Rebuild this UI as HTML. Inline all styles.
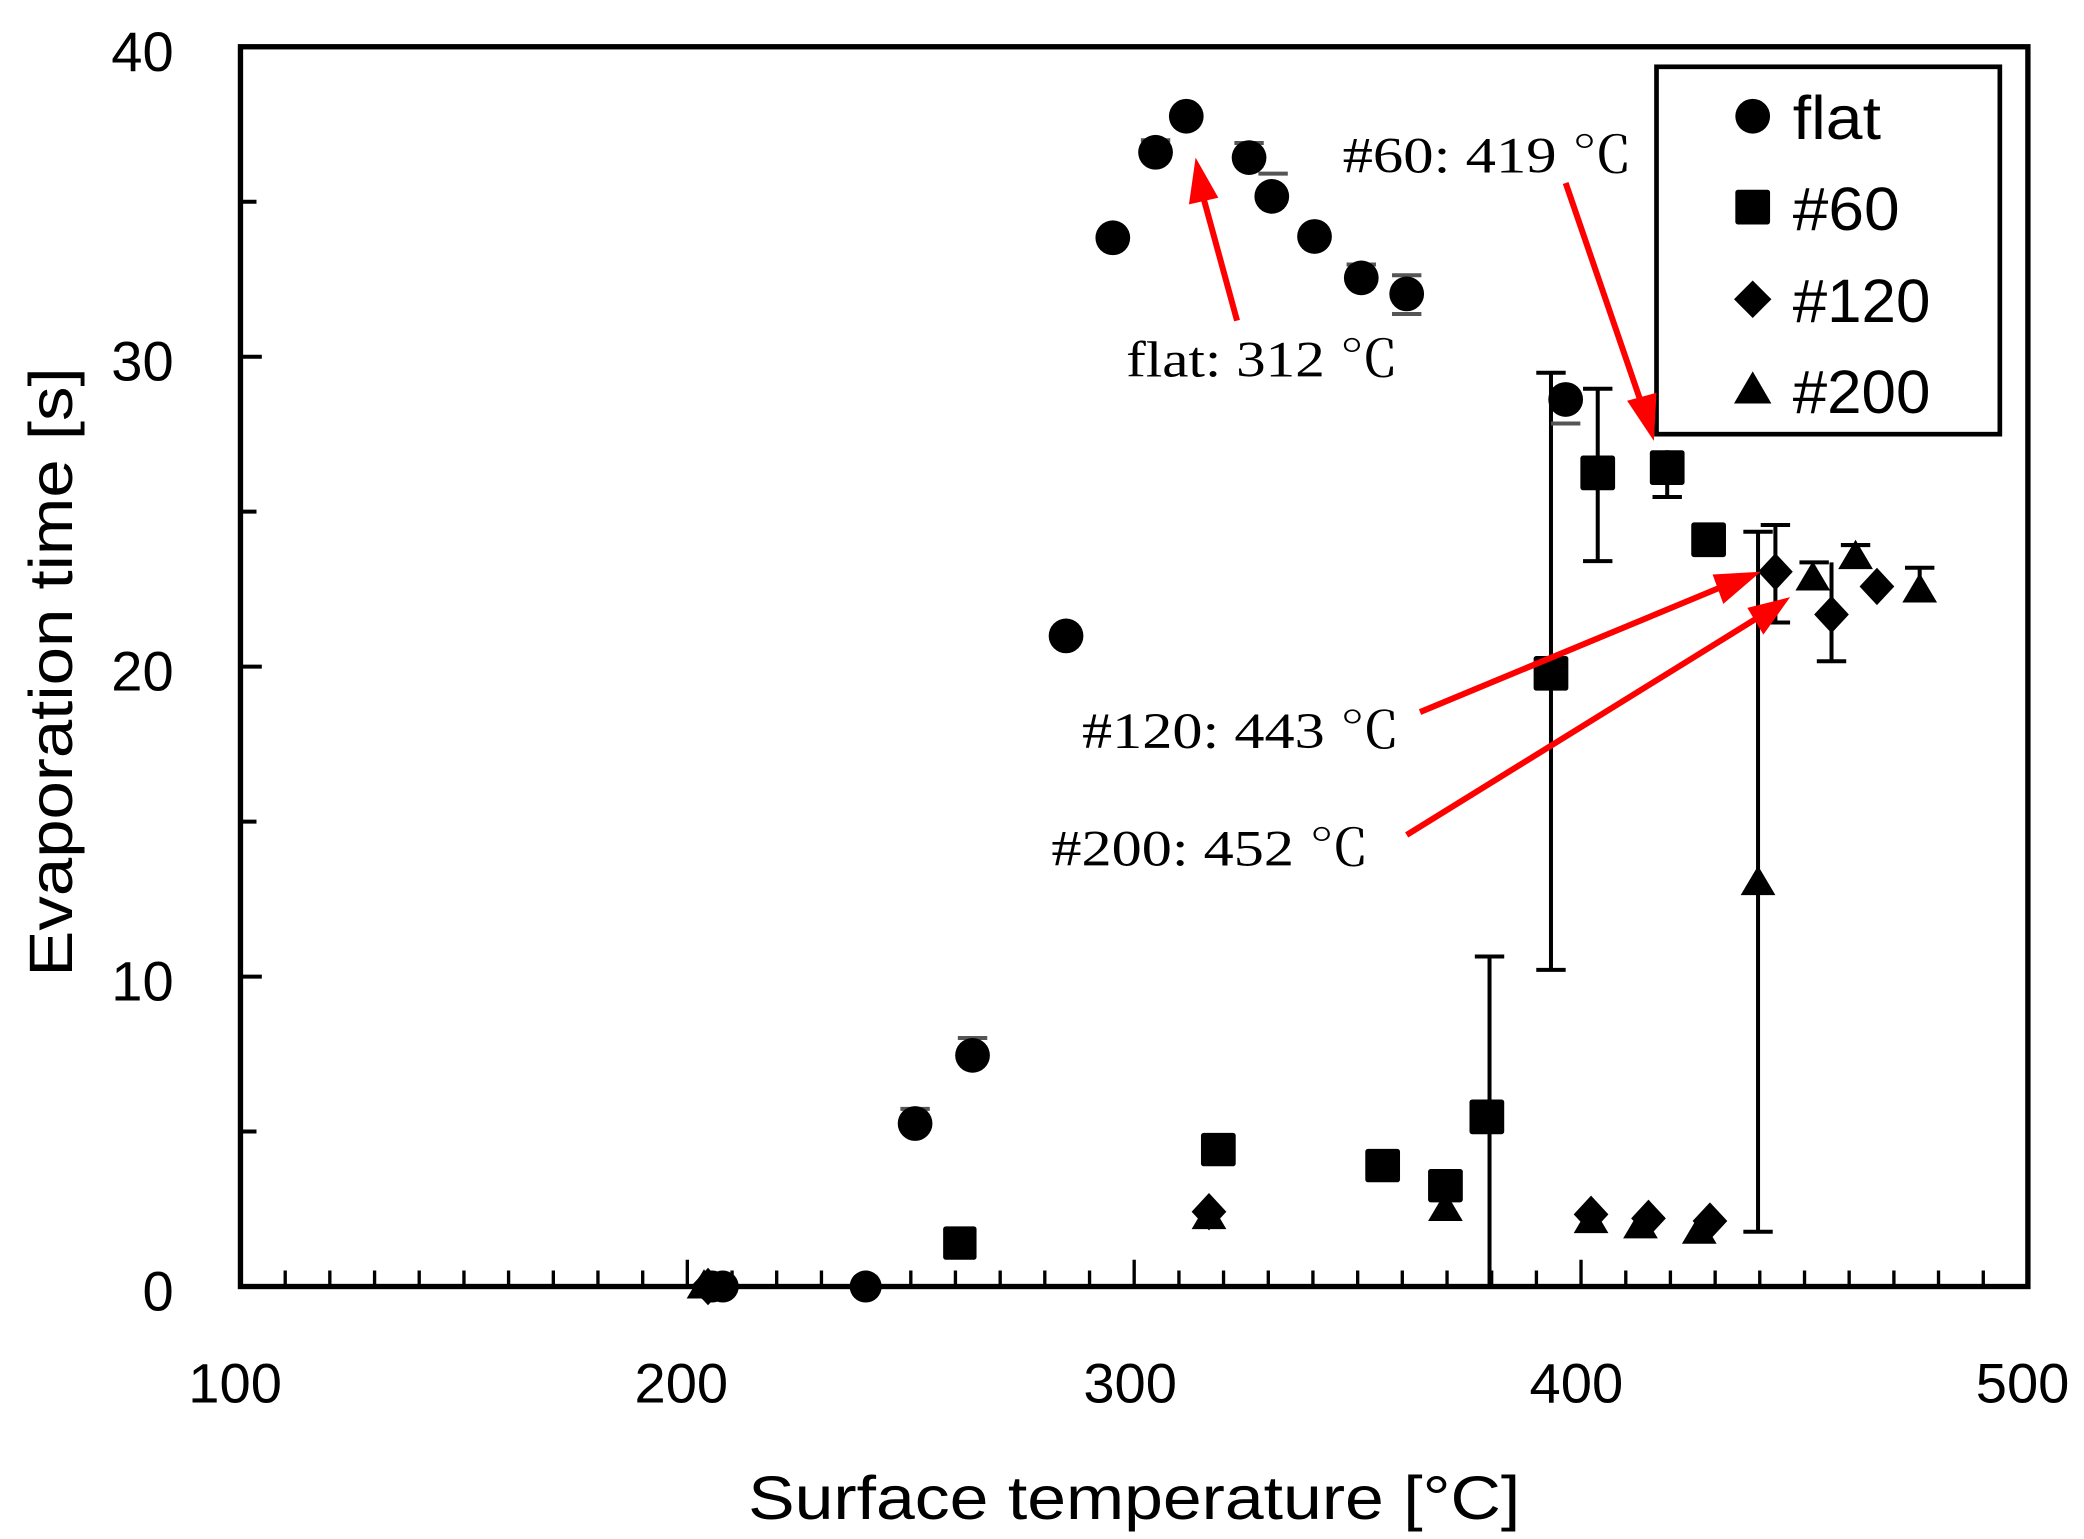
<!DOCTYPE html>
<html><head><meta charset="utf-8"><style>
html,body{margin:0;padding:0;background:#fff;}
svg{display:block;}
.t{font-family:"Liberation Sans",sans-serif;fill:#000;}
.s{font-family:"Liberation Serif","Noto Serif CJK SC",serif;fill:#000;}
</style></head><body>
<svg width="2084" height="1539" viewBox="0 0 1560 1152" preserveAspectRatio="none" xmlns="http://www.w3.org/2000/svg">
<rect width="1560" height="1152" fill="#fff"/>
<rect x="180" y="35" width="1338" height="928" fill="none" stroke="#000" stroke-width="4"/>
<g stroke="#000" stroke-width="3">
<line x1="180" y1="151" x2="192" y2="151"/><line x1="180" y1="267" x2="196" y2="267"/>
<line x1="180" y1="383" x2="192" y2="383"/><line x1="180" y1="499" x2="196" y2="499"/>
<line x1="180" y1="615" x2="192" y2="615"/><line x1="180" y1="731" x2="196" y2="731"/>
<line x1="180" y1="847" x2="192" y2="847"/>
</g>
<path stroke="#000" stroke-width="2.5" fill="none" d="M213.5 963v-12M246.9 963v-12M280.4 963v-12M313.8 963v-12M347.3 963v-12M380.7 963v-12M414.2 963v-12M447.6 963v-12M481.1 963v-12M514.5 963v-20M548 963v-12M581.4 963v-12M614.9 963v-12M648.3 963v-12M681.8 963v-12M715.2 963v-12M748.7 963v-12M782.1 963v-12M815.6 963v-12M849 963v-20M882.5 963v-12M915.9 963v-12M949.4 963v-12M982.8 963v-12M1016.3 963v-12M1049.7 963v-12M1083.2 963v-12M1116.6 963v-12M1150.1 963v-12M1183.5 963v-20M1217 963v-12M1250.4 963v-12M1283.9 963v-12M1317.3 963v-12M1350.8 963v-12M1384.2 963v-12M1417.7 963v-12M1451.1 963v-12M1484.6 963v-12"/>
<g class="t" font-size="42" text-anchor="end">
<text x="130" y="53">40</text><text x="130" y="285">30</text><text x="130" y="517">20</text>
<text x="130" y="749">10</text><text x="130" y="981">0</text>
</g>
<g class="t" font-size="42" text-anchor="middle">
<text x="176" y="1050">100</text><text x="510" y="1050">200</text><text x="846" y="1050">300</text>
<text x="1180" y="1050">400</text><text x="1514" y="1050">500</text>
</g>
<text class="t" font-size="46" x="560" y="1137" textLength="578" lengthAdjust="spacingAndGlyphs">Surface temperature  [°C]</text>
<text class="t" font-size="46" transform="translate(54,731) rotate(-90)" textLength="456" lengthAdjust="spacingAndGlyphs">Evaporation time  [s]</text>
<g stroke="#000" stroke-width="3">
<line x1="1115" y1="716" x2="1115" y2="963"/><line x1="1104" y1="716" x2="1126" y2="716"/>
<line x1="1161" y1="279" x2="1161" y2="726"/><line x1="1150" y1="279" x2="1172" y2="279"/><line x1="1150" y1="726" x2="1172" y2="726"/>
<line x1="1196" y1="291" x2="1196" y2="420"/><line x1="1185" y1="291" x2="1207" y2="291"/><line x1="1185" y1="420" x2="1207" y2="420"/>
<line x1="1248" y1="337" x2="1248" y2="372"/><line x1="1237" y1="372" x2="1259" y2="372"/>
<line x1="1316" y1="398" x2="1316" y2="922"/><line x1="1305" y1="398" x2="1327" y2="398"/><line x1="1305" y1="922" x2="1327" y2="922"/>
<line x1="1329" y1="393" x2="1329" y2="466"/><line x1="1318" y1="393" x2="1340" y2="393"/><line x1="1318" y1="466" x2="1340" y2="466"/>
<line x1="1371" y1="421" x2="1371" y2="495"/><line x1="1360" y1="495" x2="1382" y2="495"/><line x1="1347" y1="421" x2="1369" y2="421"/>
<line x1="1437" y1="425" x2="1437" y2="445"/><line x1="1426" y1="425" x2="1448" y2="425"/>
<line x1="1389" y1="408" x2="1389" y2="425"/><line x1="1378" y1="408" x2="1400" y2="408"/>
</g>
<g stroke="#555" stroke-width="3">
<line x1="1161" y1="317" x2="1183" y2="317"/><line x1="854" y1="105" x2="876" y2="105"/>
<line x1="924" y1="107" x2="946" y2="107"/><line x1="942" y1="130" x2="964" y2="130"/>
<line x1="1008" y1="198" x2="1030" y2="198"/><line x1="1042" y1="206" x2="1064" y2="206"/><line x1="1042" y1="235" x2="1064" y2="235"/>
<line x1="717" y1="777" x2="739" y2="777"/><line x1="674" y1="830" x2="696" y2="830"/>
</g>
<g fill="#000">
<circle cx="533" cy="963" r="12"/><circle cx="541" cy="963" r="12"/><circle cx="648" cy="963" r="12"/>
<circle cx="685" cy="841" r="13"/><circle cx="728" cy="790" r="13"/><circle cx="798" cy="476" r="13"/>
<circle cx="833" cy="178" r="13"/><circle cx="865" cy="114" r="13"/><circle cx="888" cy="87" r="13"/>
<circle cx="935" cy="118" r="13"/><circle cx="952" cy="147" r="13"/><circle cx="984" cy="177" r="13"/>
<circle cx="1019" cy="208" r="13"/><circle cx="1053" cy="220" r="13"/><circle cx="1172" cy="299" r="13"/>
</g>
<g fill="#000">
<rect x="706" y="918" width="25" height="25" rx="2"/><rect x="899" y="848" width="26" height="25" rx="2"/>
<rect x="1022" y="860" width="26" height="25" rx="2"/><rect x="1069" y="875" width="26" height="25" rx="2"/>
<rect x="1100" y="823" width="26" height="26" rx="2"/><rect x="1148" y="491" width="26" height="26" rx="2"/>
<rect x="1183" y="341" width="26" height="26" rx="2"/><rect x="1235" y="337" width="26" height="26" rx="2"/>
<rect x="1266" y="391" width="26" height="26" rx="2"/>
</g>
<g fill="#000">
<path d="M530 949l13 14-13 14-13-14z"/><path d="M905 893l13 14-13 14-13-14z"/>
<path d="M1191 895l13 14-13 14-13-14z"/><path d="M1234 898l13 14-13 14-13-14z"/>
<path d="M1280 900l13 14-13 14-13-14z"/><path d="M1329 414l13 14-13 14-13-14z"/>
<path d="M1371 446l13 14-13 14-13-14z"/><path d="M1405 425l13 14-13 14-13-14z"/>
</g>
<g fill="#000">
<path d="M527 950l13 22h-26z"/><path d="M905 898l13 22h-26z"/><path d="M1082 892l13 22h-26z"/>
<path d="M1191 901l13 22h-26z"/><path d="M1228 905l13 22h-26z"/><path d="M1272 909l13 22h-26z"/>
<path d="M1316 648l13 22h-26z"/><path d="M1357 420l13 22h-26z"/><path d="M1389 404l13 22h-26z"/>
<path d="M1437 429l13 22h-26z"/>
</g>
<rect x="1240" y="50" width="257" height="275" fill="#fff" stroke="#000" stroke-width="3.5"/>
<circle cx="1312" cy="87" r="13" fill="#000"/>
<rect x="1299" y="142" width="26" height="26" rx="2" fill="#000"/>
<path d="M1312 210l14 14-14 14-14-14z" fill="#000"/>
<path d="M1312 278l14 24h-28z" fill="#000"/>
<g class="t" font-size="46">
<text x="1342" y="104" textLength="66" lengthAdjust="spacingAndGlyphs">flat</text>
<text x="1342" y="172" textLength="80" lengthAdjust="spacingAndGlyphs">#60</text>
<text x="1342" y="241" textLength="103" lengthAdjust="spacingAndGlyphs">#120</text>
<text x="1342" y="309" textLength="103" lengthAdjust="spacingAndGlyphs">#200</text>
</g>
<g class="s" font-size="38">
<text x="1005" y="129" textLength="217" lengthAdjust="spacingAndGlyphs">#60: 419 ℃</text>
<text x="843" y="282" textLength="204" lengthAdjust="spacingAndGlyphs">flat: 312 ℃</text>
<text x="810" y="560" textLength="238" lengthAdjust="spacingAndGlyphs">#120: 443 ℃</text>
<text x="787" y="648" textLength="238" lengthAdjust="spacingAndGlyphs">#200: 452 ℃</text>
</g>
<g stroke="#f00" stroke-width="4.5" fill="#f00">
<line x1="1172" y1="137" x2="1228" y2="300"/><path d="M1238 330l-20-30 22-6z" stroke="none"/>
<line x1="926" y1="240" x2="900" y2="145"/><path d="M895 118l17 30-22 5z" stroke="none"/>
<line x1="1063" y1="533" x2="1292" y2="438"/><path d="M1318 428l-28 24-8-22z" stroke="none"/>
<line x1="1053" y1="625" x2="1318" y2="461"/><path d="M1340 447l-20 28-12-20z" stroke="none"/>
</g>
</svg>
</body></html>
